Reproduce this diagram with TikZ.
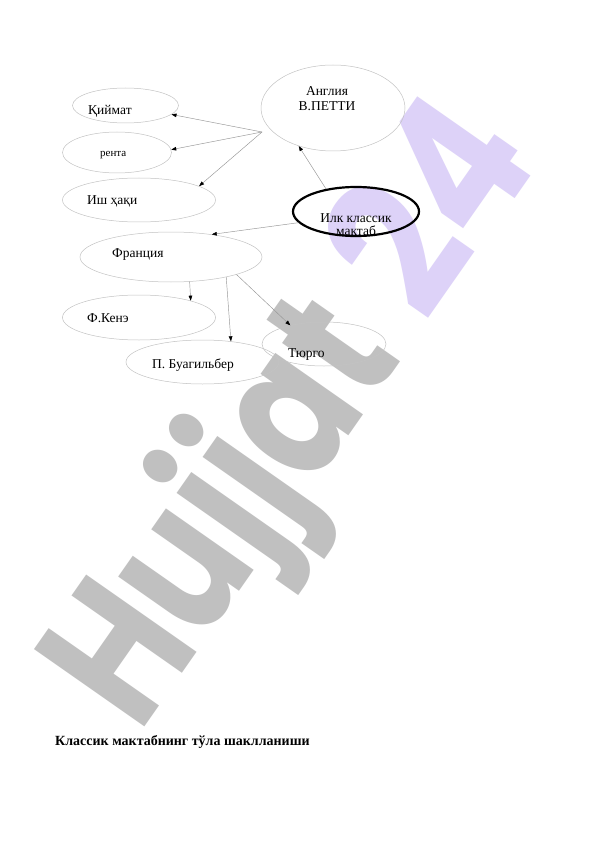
\documentclass[tikz,border=0pt]{standalone}
\usepackage{fontspec}
\setmainfont{Liberation Serif}
\newfontfamily\wmfont{Poppins}
\usetikzlibrary{shapes.geometric,arrows.meta}
\definecolor{wmgray}{RGB}{192,192,192}
\definecolor{wmpurple}{RGB}{221,210,248}
\definecolor{ellgray}{RGB}{195,195,195}
\definecolor{lngray}{RGB}{150,150,150}
\tikzset{
  ell/.style={ellipse, draw=ellgray, line width=0.5pt, inner sep=0pt},
  mainell/.style={ellipse, draw=black, line width=2.2pt, inner sep=0pt},
  lbl/.style={inner sep=0pt, font=\fontsize{13.5}{15}\selectfont},
  conn/.style={draw=lngray, line width=0.45pt, -{Triangle[length=5pt,width=3.6pt,color=black]}}
}
\begin{document}
\begin{tikzpicture}[x=1pt,y=-1pt]
\useasboundingbox (0,0) rectangle (596,842);
\fill[white] (0,0) rectangle (596,842);
% watermark
\node[inner sep=0pt, anchor=base west, rotate=55] (wm) at (139,735)
  {\wmfont\bfseries\fontsize{192}{192}\selectfont\scalebox{0.78}[1.0]{\color{wmgray}Hujjat}\hspace{40pt}\scalebox{0.84}[1.0]{\color{wmpurple}24}};
% ellipses
\node[ell, minimum width=106pt, minimum height=35pt] (kiy) at (125.5,105.5) {};
\node[ell, minimum width=109pt, minimum height=41pt] (ren) at (117,152.5) {};
\node[ell, minimum width=153pt, minimum height=44pt] (ish) at (139,200) {};
\node[ell, minimum width=144pt, minimum height=86pt] (ang) at (333,108) {};
\node[mainell, minimum width=126pt, minimum height=49pt] (ilk) at (356,211.5) {};
\node[ell, minimum width=182pt, minimum height=50pt] (fra) at (171,257) {};
\node[ell, minimum width=153pt, minimum height=45pt] (ken) at (139,317.5) {};
\node[ell, minimum width=153pt, minimum height=44pt] (bua) at (202.5,362) {};
\node[ell, minimum width=124pt, minimum height=44pt] (tur) at (324,344) {};
% texts
\node[lbl, anchor=base west] (tkiy) at (88,115) {Қиймат};
\node[lbl, anchor=base west, font=\fontsize{11}{13}\selectfont] (tren) at (100,157) {рента};
\node[lbl, anchor=base west] (tish) at (87,205) {Иш ҳақи};
\node[lbl, align=center, font=\fontsize{13.5}{15}\selectfont] (tang) at (327,99) {Англия\\В.ПЕТТИ};
\node[lbl, align=center, font=\fontsize{13.5}{13}\selectfont] (tilk) at (356,225) {Илк классик\\мактаб};
\node[lbl, anchor=base west] (tfra) at (112,257) {Франция};
\node[lbl, anchor=base west] (tken) at (87,322) {Ф.Кенэ};
\node[lbl, anchor=base west] (tbua) at (152,368) {П. Буагильбер};
\node[lbl, anchor=base west] (ttur) at (288,357) {Тюрго};
\node[inner sep=0pt, anchor=base west, font=\fontsize{14}{16}\selectfont\bfseries] (cap) at (55,745) {Классик мактабнинг тўла шаклланиши};
% connectors
\coordinate (src) at (262,132);
\draw[conn] (src) -- (kiy.-11);
\draw[conn] (src) -- (ren.3);
\draw[conn] (src) -- (ish.13);
\draw[conn] (ilk.143) -- (ang.-132);
\draw[conn] (ilk.-169) -- (fra.29);
\draw[conn] (fra.-53) -- (ken.18);
\draw[conn] (fra.-20) -- (bua.36);
\draw[conn] (fra.-15) -- (tur.151);
\end{tikzpicture}
\end{document}
